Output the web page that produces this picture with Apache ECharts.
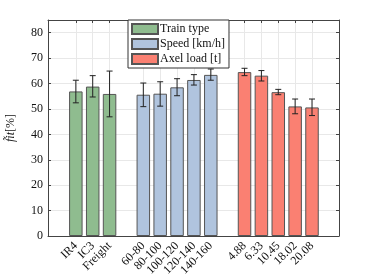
<!DOCTYPE html>
<html><head><meta charset="utf-8">
<script src="https://cdn.jsdelivr.net/npm/echarts@6/dist/echarts.min.js"></script>
<style>html,body{margin:0;padding:0;background:#fff}#c{width:374px;height:280px}</style>
</head><body><div id="c"></div>
<script>
// ---- data ----
var trainLabels = ['IR4', 'IC3', 'Freight'];
var trainValues = [56.9, 58.8, 55.9];
var trainLow = [52.4, 54.7, 46.9];
var trainHigh = [61.3, 63.1, 64.9];

var speedLabels = ['60-80', '80-100', '100-120', '120-140', '140-160'];
var speedValues = [55.6, 56.0, 58.5, 61.4, 63.4];
var speedLow = [50.9, 51.1, 55.2, 59.4, 61.3];
var speedHigh = [60.2, 60.7, 61.9, 63.5, 65.7];

var loadLabels = ['4.88', '6.33', '10.45', '18.02', '20.08'];
var loadValues = [64.5, 63.1, 56.6, 51.0, 50.6];
var loadLow = [63.1, 61.0, 55.6, 48.1, 47.4];
var loadHigh = [66.0, 65.1, 57.7, 53.9, 53.9];

var groupNames = ['Train type', 'Speed [km/h]', 'Axel load [t]'];

// ---- build ----
var groups = [
  {labels: trainLabels, values: trainValues, low: trainLow, high: trainHigh, color: '#8fbc8f'},
  {labels: speedLabels, values: speedValues, low: speedLow, high: speedHigh, color: '#b0c4de'},
  {labels: loadLabels, values: loadValues, low: loadLow, high: loadHigh, color: '#fa8072'}
];
var positions = [], labelMap = {}, errData = [];
var pos = 1;
groups.forEach(function (g) {
  g.pts = [];
  g.labels.forEach(function (l, i) {
    positions.push(pos);
    labelMap[pos] = l;
    g.pts.push([pos, g.values[i]]);
    errData.push([pos, g.low[i], g.high[i]]);
    pos++;
  });
  pos++;
});

var serif = 'Liberation Serif, Times New Roman, serif';
var frame = '#444';
var series = groups.map(function (g, k) {
  return {
    type: 'bar', name: groupNames[k], data: g.pts, xAxisIndex: 0, yAxisIndex: 0,
    barWidth: 13.5, barGap: '-100%',
    itemStyle: {color: g.color, borderColor: '#555', borderWidth: 1},
    z: 2
  };
});
series.push({
  type: 'custom', name: 'err', data: errData, xAxisIndex: 0, yAxisIndex: 0, z: 5,
  renderItem: function (params, api) {
    var x = api.value(0);
    var lo = api.coord([x, api.value(1)]);
    var hi = api.coord([x, api.value(2)]);
    var w = 3;
    var st = {stroke: '#222', lineWidth: 1};
    return {type: 'group', children: [
      {type: 'line', shape: {x1: lo[0], y1: lo[1], x2: hi[0], y2: hi[1]}, style: st},
      {type: 'line', shape: {x1: lo[0] - w, y1: lo[1], x2: lo[0] + w, y2: lo[1]}, style: st},
      {type: 'line', shape: {x1: hi[0] - w, y1: hi[1], x2: hi[0] + w, y2: hi[1]}, style: st}
    ]};
  }
});

var chart = echarts.init(document.getElementById('c'), null, {renderer: 'canvas'});
chart.setOption({
  animation: false,
  backgroundColor: '#fff',
  grid: {left: 48, top: 20, width: 291, height: 216, containLabel: false, outerBoundsMode: 'none'},
  legend: {
    data: groupNames, orient: 'vertical', left: 128, top: 20,
    itemWidth: 26, itemHeight: 10, itemGap: 3,
    padding: [3, 4, 3, 3], borderColor: '#333', borderWidth: 1, backgroundColor: '#fff',
    icon: 'rect', textStyle: {fontFamily: serif, fontSize: 12, color: '#111', padding: [0, 0, 0, -3]}
  },
  xAxis: [
    {type: 'value', min: -0.65, max: 16.6, position: 'bottom',
     axisLine: {show: true, onZero: false, lineStyle: {color: frame}},
     axisTick: {show: true, inside: true, length: 3, customValues: positions, lineStyle: {color: frame}},
     axisLabel: {customValues: positions, rotate: 45, margin: 8, fontFamily: serif, fontSize: 12, color: '#111',
       formatter: function (v) { return labelMap[v] || ''; }},
     splitLine: {show: true, lineStyle: {color: '#e8e8e8'}}},
    {type: 'value', min: -0.65, max: 16.6, position: 'top',
     axisLine: {show: true, onZero: false, lineStyle: {color: frame}},
     axisTick: {show: true, inside: true, length: 3, customValues: positions, lineStyle: {color: frame}},
     axisLabel: {show: false}, splitLine: {show: false}}
  ],
  yAxis: [
    {type: 'value', min: 0, max: 85, interval: 10, position: 'left',
     name: '{i|f\u0303it}{n|[%]}', nameLocation: 'middle', nameGap: 31, nameRotate: 90,
     nameTextStyle: {rich: {i: {fontFamily: serif, fontStyle: 'italic', fontSize: 12, color: '#111'},
                            n: {fontFamily: serif, fontSize: 12, color: '#111'}}},
     axisLine: {show: true, onZero: false, lineStyle: {color: frame}},
     axisTick: {show: true, inside: true, length: 3, lineStyle: {color: frame}},
     axisLabel: {margin: 5, fontFamily: serif, fontSize: 12, color: '#111', showMaxLabel: false},
     splitLine: {show: true, lineStyle: {color: '#e8e8e8'}}},
    {type: 'value', min: 0, max: 85, interval: 10, position: 'right',
     axisLine: {show: true, onZero: false, lineStyle: {color: frame}},
     axisTick: {show: true, inside: true, length: 3, lineStyle: {color: frame}},
     axisLabel: {show: false}, splitLine: {show: false}}
  ],
  series: series
});
</script></body></html>
